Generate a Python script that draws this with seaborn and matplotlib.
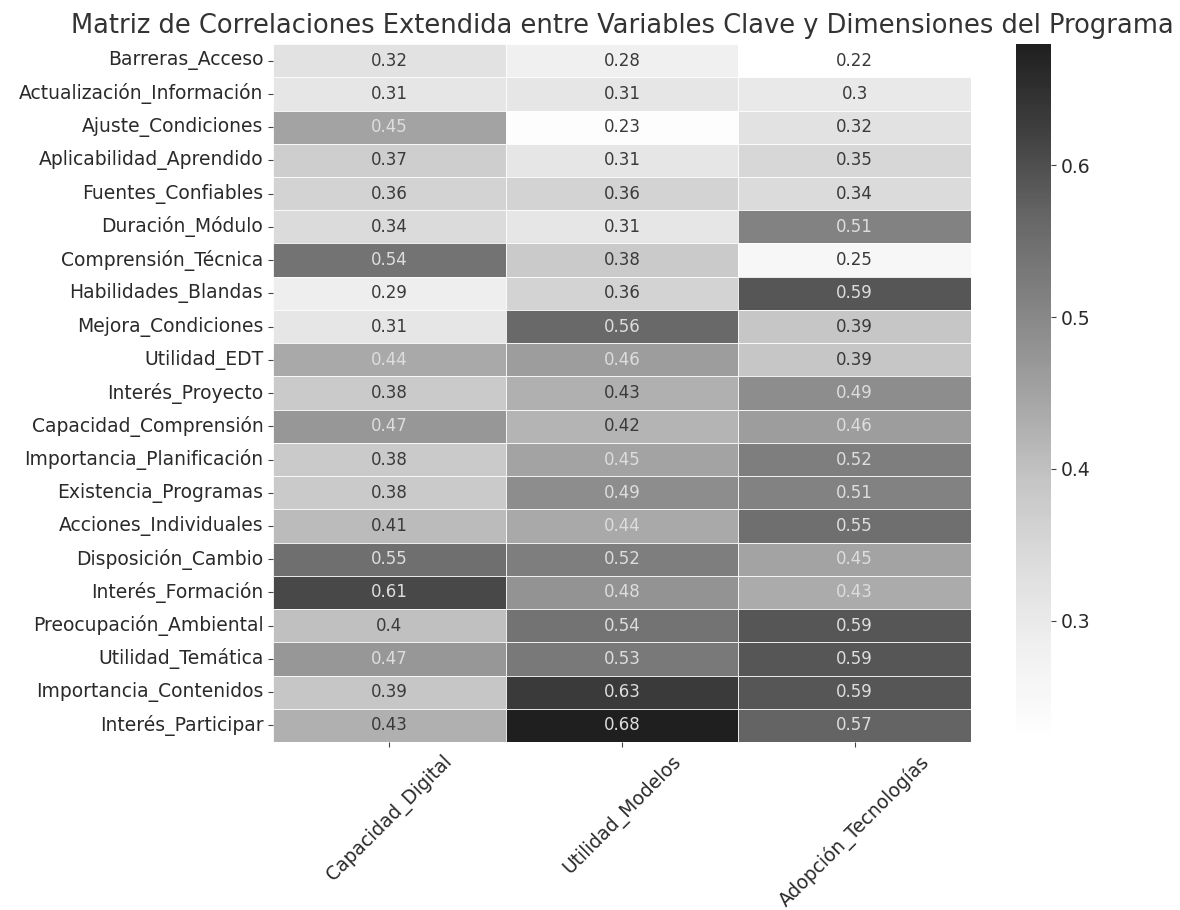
import numpy as np
import pandas as pd
import seaborn as sns
import matplotlib.pyplot as plt

# Variables (rows) and program dimensions (columns)
variables = [
    'Barreras_Acceso', 'Actualización_Información', 'Ajuste_Condiciones',
    'Aplicabilidad_Aprendido', 'Fuentes_Confiables', 'Duración_Módulo',
    'Comprensión_Técnica', 'Habilidades_Blandas', 'Mejora_Condiciones',
    'Utilidad_EDT', 'Interés_Proyecto', 'Capacidad_Comprensión',
    'Importancia_Planificación', 'Existencia_Programas', 'Acciones_Individuales',
    'Disposición_Cambio', 'Interés_Formación', 'Preocupación_Ambiental',
    'Utilidad_Temática', 'Importancia_Contenidos', 'Interés_Participar',
]
dimensiones = ['Capacidad_Digital', 'Utilidad_Modelos', 'Adopción_Tecnologías']

capacidad_digital = [0.32, 0.31, 0.45, 0.37, 0.36, 0.34, 0.54, 0.29, 0.31, 0.44, 0.38,
                     0.47, 0.38, 0.38, 0.41, 0.55, 0.61, 0.40, 0.47, 0.39, 0.428]
utilidad_modelos = [0.28, 0.31, 0.23, 0.31, 0.36, 0.31, 0.38, 0.36, 0.56, 0.46, 0.428,
                    0.42, 0.45, 0.49, 0.44, 0.52, 0.48, 0.54, 0.53, 0.63, 0.68]
adopcion_tecnologias = [0.22, 0.30, 0.32, 0.35, 0.34, 0.51, 0.25, 0.59, 0.39, 0.39, 0.49,
                        0.46, 0.52, 0.51, 0.55, 0.45, 0.434, 0.59, 0.59, 0.59, 0.57]

corr = pd.DataFrame(
    np.column_stack([capacidad_digital, utilidad_modelos, adopcion_tecnologias]),
    index=variables, columns=dimensiones,
)

fig = plt.figure(figsize=(11.8, 9.1), dpi=100)
ax = fig.add_axes([0.2314, 0.1846, 0.5915, 0.767])
cax = fig.add_axes([0.861, 0.1846, 0.0297, 0.767])

sns.heatmap(corr, annot=True, cmap='Greys', linewidths=0.6, linecolor='white',
            alpha=0.88, ax=ax, cbar_ax=cax, annot_kws={'size': 12})

# annotation colour: light text on the darker cells (texts are row-major)
for t, val in zip(ax.texts, corr.values.flatten()):
    t.set_color('#dddddd' if val > 0.43 else '#3a3a3a')

ax.set_title('Matriz de Correlaciones Extendida entre Variables Clave y Dimensiones del Programa',
             fontsize=18.5, pad=8, color='#333333')
ax.tick_params(axis='both', labelsize=13.5, labelcolor='#2a2a2a', color='#444444')
plt.setp(ax.get_xticklabels(), rotation=45, ha='center')
cax.tick_params(labelsize=13.5, labelcolor='#2a2a2a', color='#444444')

fig.savefig('out.png', dpi=100)
